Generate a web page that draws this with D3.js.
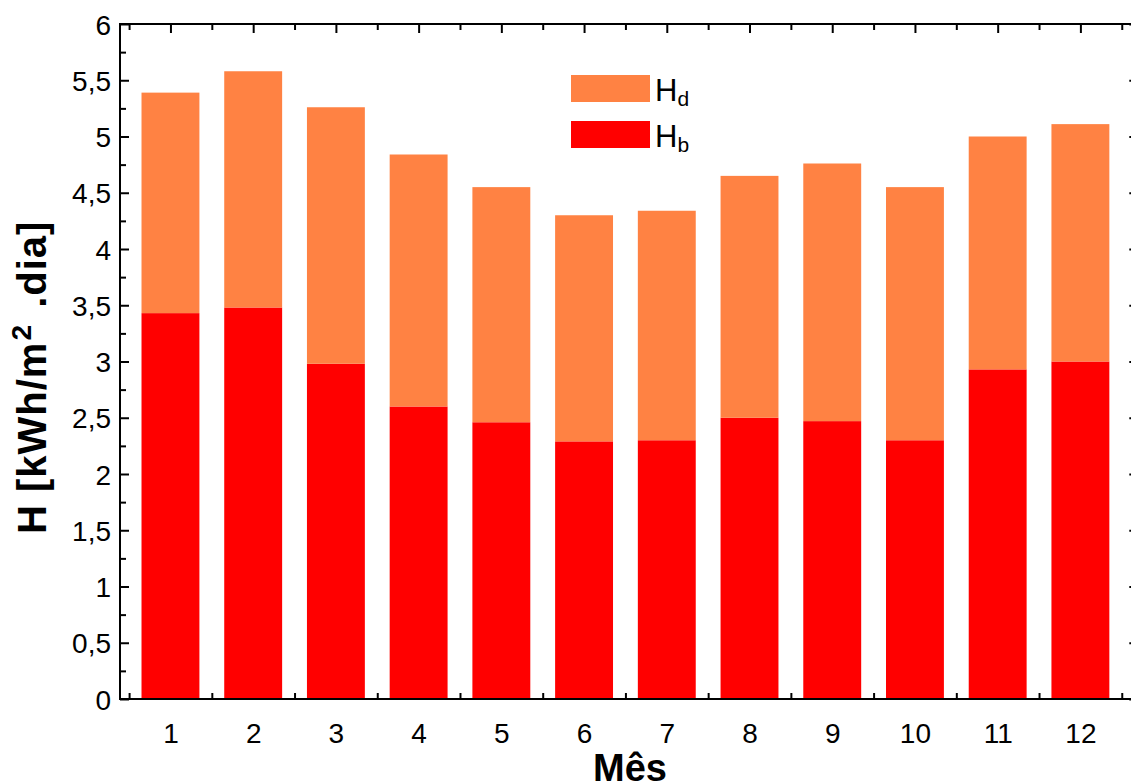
<!DOCTYPE html>
<html>
<head>
<meta charset="utf-8">
<script src="https://cdn.jsdelivr.net/npm/d3@7"></script>
<style>
  html, body { margin: 0; padding: 0; background: #fff; }
  svg { display: block; font-family: Arial, "Liberation Sans", Helvetica, sans-serif; }
</style>
</head>
<body>
<svg id="chart" width="1131" height="783"></svg>
<script>
// Monthly daily irradiation: beam (Hb) and diffuse (Hd), kWh/m².dia
const months = [1, 2, 3, 4, 5, 6, 7, 8, 9, 10, 11, 12];
const hb = [3.43, 3.48, 2.98, 2.60, 2.46, 2.29, 2.30, 2.50, 2.47, 2.30, 2.93, 3.00];
const hd = [1.96, 2.10, 2.28, 2.24, 2.09, 2.01, 2.04, 2.15, 2.29, 2.25, 2.07, 2.11];
const yTicks = [0, 0.5, 1, 1.5, 2, 2.5, 3, 3.5, 4, 4.5, 5, 5.5, 6];
const seriesNames = ["Hb", "Hd"];
const seriesColors = { Hb: "#ff0000", Hd: "#ff8243" };

const svg = d3.select("#chart");
const plotL = 120, plotR = 1138.3, plotT = 24, plotB = 699;

const x = d3.scaleLinear().domain([0.39, 12.7]).range([plotL, plotR]);
const y = d3.scaleLinear().domain([0, 6]).range([plotB, plotT]);
const barW = x(0.7) - x(0);

const pt = d3.formatLocale({ decimal: ",", thousands: ".", grouping: [3], currency: ["R$", ""] });
const fmt = v => pt.format("~g")(v);

const minorX = d3.range(0.5, 13, 1);
const minorY = d3.range(0.25, 6, 0.5);

// Axes with inward ticks on all four sides
function drawAxis(g, axis) {
  g.call(axis);
  g.select(".domain").remove();
  g.selectAll(".tick line").attr("stroke", "#000").attr("stroke-width", 2);
  g.selectAll(".tick text").attr("fill", "#000").attr("font-size", 28)
    .attr("font-family", "Arial, 'Liberation Sans', sans-serif");
  return g;
}

const axesG = svg.append("g");

// bottom
drawAxis(axesG.append("g").attr("transform", `translate(0,${plotB})`),
  d3.axisBottom(x).tickValues(months).tickSize(-9).tickFormat(d => d))
  .selectAll(".tick text").attr("y", 44).attr("dy", null);
drawAxis(axesG.append("g").attr("transform", `translate(0,${plotB})`),
  d3.axisBottom(x).tickValues(minorX).tickSize(-6).tickFormat(""));
// top
drawAxis(axesG.append("g").attr("transform", `translate(0,${plotT})`),
  d3.axisTop(x).tickValues(months).tickSize(-9).tickFormat(""));
drawAxis(axesG.append("g").attr("transform", `translate(0,${plotT})`),
  d3.axisTop(x).tickValues(minorX).tickSize(-6).tickFormat(""));
// left
drawAxis(axesG.append("g").attr("transform", `translate(${plotL},0)`),
  d3.axisLeft(y).tickValues(yTicks).tickSize(-9).tickFormat(fmt))
  .selectAll(".tick text").attr("x", -9).attr("y", 10).attr("dy", null);
drawAxis(axesG.append("g").attr("transform", `translate(${plotL},0)`),
  d3.axisLeft(y).tickValues(minorY).tickSize(-6).tickFormat(""));
// right
drawAxis(axesG.append("g").attr("transform", `translate(${plotR},0)`),
  d3.axisRight(y).tickValues(yTicks).tickSize(-9).tickFormat(""));
drawAxis(axesG.append("g").attr("transform", `translate(${plotR},0)`),
  d3.axisRight(y).tickValues(minorY).tickSize(-6).tickFormat(""));

// Stacked bars
const table = months.map((m, i) => ({ month: m, Hb: hb[i], Hd: hd[i] }));
const stacked = d3.stack().keys(seriesNames)(table);

svg.append("g").selectAll("g")
  .data(stacked)
  .join("g")
  .attr("fill", s => seriesColors[s.key])
  .selectAll("rect")
  .data(s => s)
  .join("rect")
  .attr("x", d => x(d.data.month) - barW / 2)
  .attr("width", barW)
  .attr("y", d => y(d[1]))
  .attr("height", d => y(d[0]) - y(d[1]));

// Frame lines
const frame = svg.append("g").attr("stroke", "#000").attr("stroke-width", 2).attr("fill", "none");
frame.append("line").attr("x1", plotL).attr("x2", plotR).attr("y1", plotB).attr("y2", plotB);
frame.append("line").attr("x1", plotL).attr("x2", plotR).attr("y1", plotT).attr("y2", plotT);
frame.append("line").attr("x1", plotL).attr("x2", plotL).attr("y1", plotT - 1).attr("y2", plotB + 1);
frame.append("line").attr("x1", plotR).attr("x2", plotR).attr("y1", plotT - 1).attr("y2", plotB + 1);

// Legend
const legendItems = [
  { key: "Hd", main: "H", sub: "d", y: 75 },
  { key: "Hb", main: "H", sub: "b", y: 121 }
];
const lg = svg.append("g");
legendItems.forEach(it => {
  lg.append("rect").attr("x", 571).attr("y", it.y).attr("width", 79).attr("height", 27)
    .attr("fill", seriesColors[it.key]);
  const t = lg.append("text").attr("x", 655).attr("y", it.y + 25.5)
    .attr("font-size", 31).attr("fill", "#000");
  t.append("tspan").text(it.main);
  t.append("tspan").attr("font-size", 21).attr("dy", 5).text(it.sub);
});

// Axis titles
svg.append("text")
  .attr("x", 630).attr("y", 781)
  .attr("text-anchor", "middle")
  .attr("font-size", 38).attr("font-weight", "bold").attr("fill", "#000")
  .text("Mês");

const yt = svg.append("text")
  .attr("transform", "translate(46,534) rotate(-90)")
  .attr("text-anchor", "start")
  .attr("letter-spacing", 1)
  .attr("font-size", 40).attr("font-weight", "bold").attr("fill", "#000");
yt.append("tspan").text("H [kWh/m");
yt.append("tspan").attr("font-size", 28).attr("dy", -15).attr("dx", 1).text("2");
yt.append("tspan").attr("dy", 15).attr("dx", 4).text(" .dia]");
</script>
</body>
</html>
